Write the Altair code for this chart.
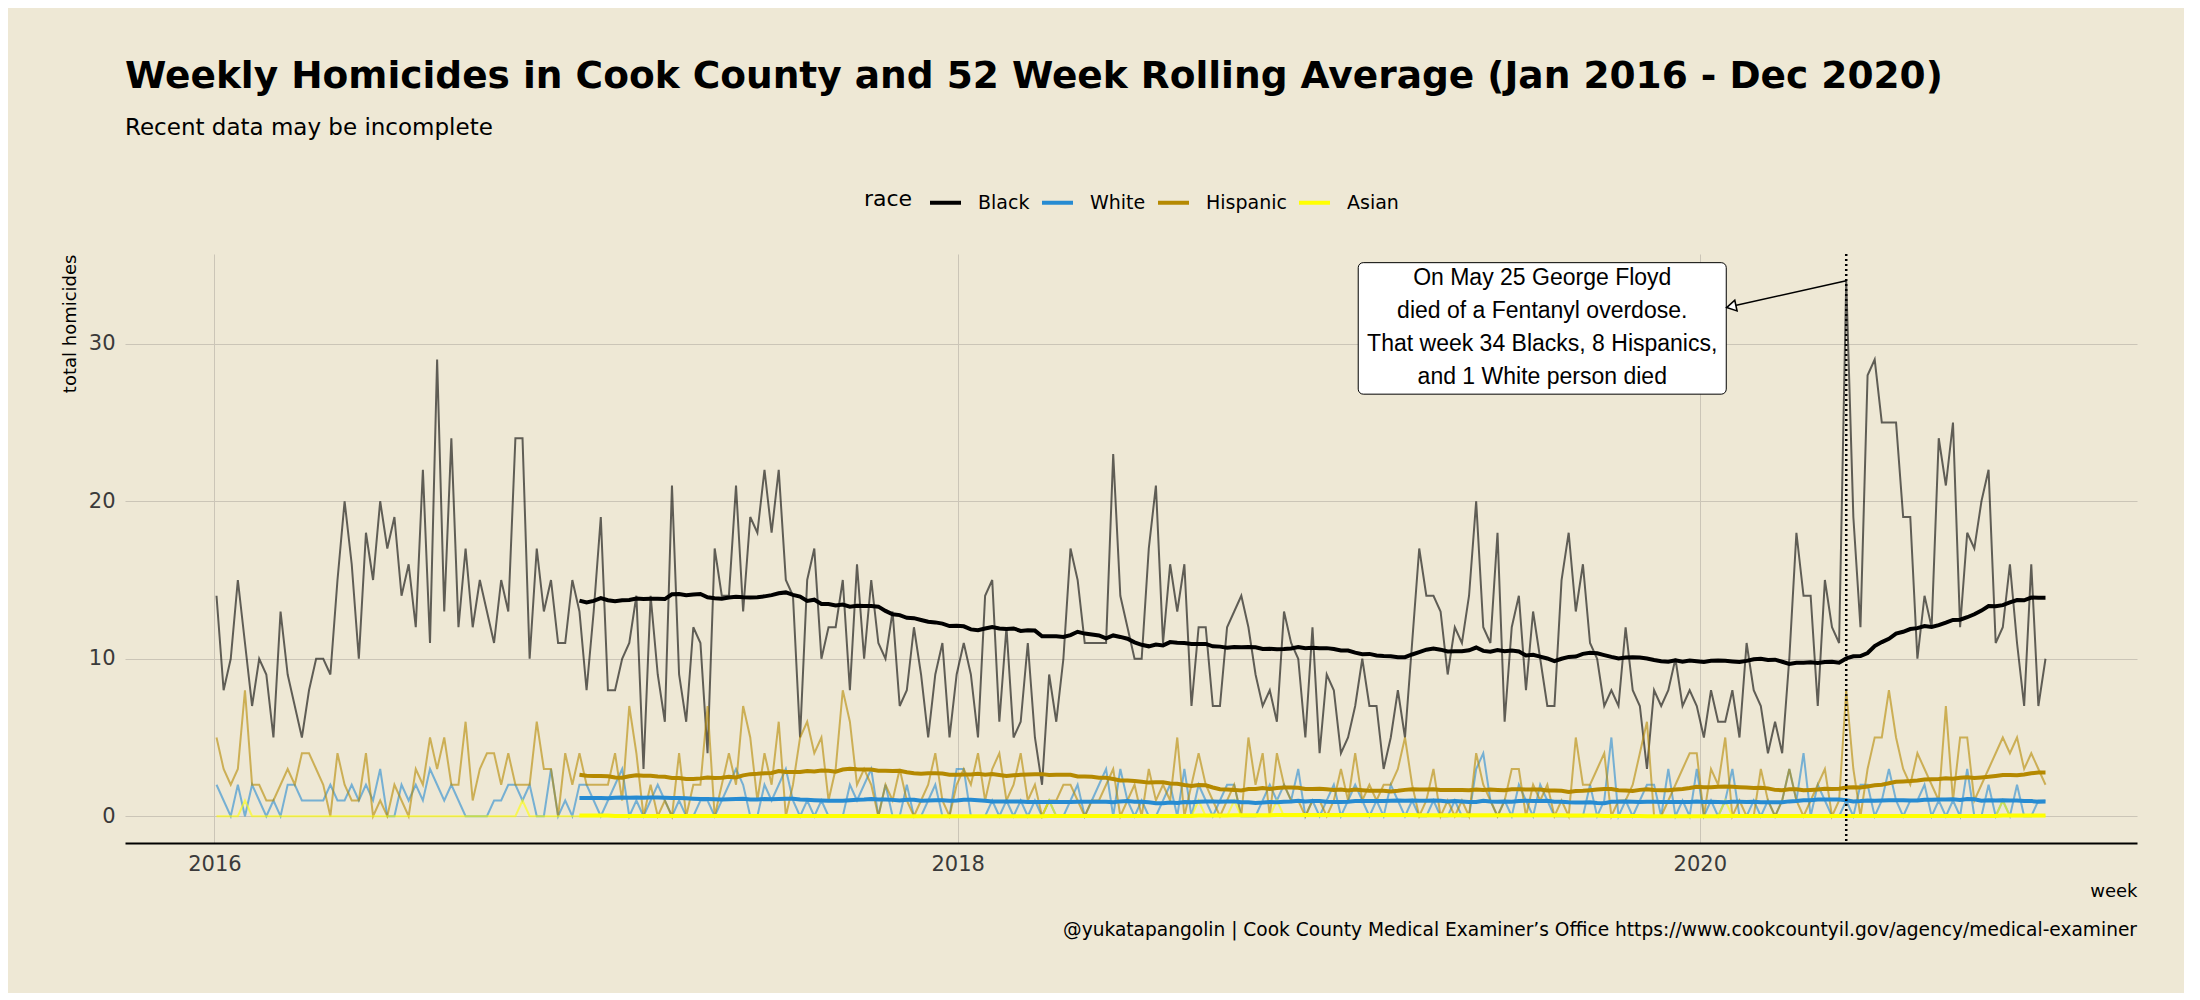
import altair as alt
import pandas as pd

# ---------------- data (weekly counts) ----------------
black = [14, 8, 10, 15, 11, 7, 10, 9, 5, 13,
         9, 7, 5, 8, 10, 10, 9, 15, 20, 16,
         10, 18, 15, 20, 17, 19, 14, 16, 12, 22,
         11, 29, 13, 24, 12, 17, 12, 15, 13, 11,
         15, 13, 24, 24, 10, 17, 13, 15, 11, 11,
         15, 13, 8, 13, 19, 8, 8, 10, 11, 14,
         3, 14, 9, 6, 21, 9, 6, 12, 11, 4,
         17, 14, 14, 21, 13, 19, 18, 22, 18, 22,
         15, 14, 5, 15, 17, 10, 12, 12, 15, 8,
         16, 10, 15, 11, 10, 13, 7, 8, 12, 9,
         5, 9, 11, 5, 9, 11, 9, 5, 14, 15,
         6, 12, 5, 6, 11, 5, 2, 9, 6, 10,
         17, 15, 11, 11, 11, 11, 23, 14, 12, 10,
         10, 17, 21, 11, 16, 13, 16, 7, 12, 12,
         7, 7, 12, 13, 14, 12, 9, 7, 8, 6,
         13, 11, 10, 5, 12, 4, 9, 8, 4, 5,
         7, 10, 7, 7, 3, 5, 8, 5, 11, 17,
         14, 14, 13, 9, 12, 11, 14, 20, 12, 11,
         18, 6, 12, 14, 8, 13, 10, 7, 7, 15,
         18, 13, 16, 11, 10, 7, 8, 7, 12, 8,
         7, 3, 8, 7, 8, 10, 7, 8, 7, 5,
         8, 6, 6, 8, 5, 11, 8, 7, 4, 6,
         4, 10, 18, 14, 14, 7, 15, 12, 11, 34,
         19, 12, 28, 29, 25, 25, 25, 19, 19, 10,
         14, 12, 24, 21, 25, 12, 18, 17, 20, 22,
         11, 12, 16, 11, 7, 16, 7, 10]

white = [2, 1, 0, 2, 0, 2, 1, 0, 1, 0,
         2, 2, 1, 1, 1, 1, 2, 1, 1, 2,
         1, 2, 1, 3, 0, 0, 2, 1, 2, 1,
         3, 2, 1, 2, 1, 0, 0, 0, 0, 1,
         1, 2, 2, 1, 2, 0, 0, 3, 0, 1,
         0, 2, 2, 1, 0, 1, 2, 3, 0, 1,
         0, 1, 2, 1, 0, 1, 0, 0, 1, 1,
         0, 1, 2, 3, 2, 0, 0, 2, 1, 2,
         3, 1, 0, 1, 0, 1, 0, 0, 0, 2,
         1, 2, 3, 0, 2, 0, 0, 2, 0, 0,
         1, 2, 0, 0, 3, 3, 0, 0, 0, 1,
         0, 1, 0, 1, 0, 1, 0, 1, 0, 0,
         1, 2, 0, 1, 2, 3, 0, 3, 1, 0,
         1, 0, 0, 1, 2, 0, 3, 0, 2, 1,
         0, 1, 2, 2, 0, 0, 0, 1, 2, 1,
         2, 1, 3, 0, 1, 0, 1, 2, 0, 1,
         2, 1, 0, 1, 0, 2, 1, 0, 1, 0,
         0, 1, 0, 0, 1, 0, 0, 3, 4, 1,
         0, 1, 0, 2, 1, 0, 2, 1, 0, 0,
         0, 0, 0, 2, 0, 1, 5, 0, 1, 0,
         1, 2, 2, 0, 3, 0, 1, 0, 3, 0,
         1, 0, 1, 3, 0, 0, 1, 0, 1, 0,
         1, 3, 1, 4, 0, 2, 1, 0, 0, 1,
         0, 2, 2, 0, 1, 3, 1, 0, 1, 1,
         2, 0, 1, 0, 1, 0, 3, 0, 0, 2,
         0, 1, 0, 2, 0, 0, 1, 1]

hispanic = [5, 3, 2, 3, 8, 2, 2, 1, 1, 2,
            3, 2, 4, 4, 3, 2, 0, 4, 2, 1,
            1, 4, 0, 1, 0, 2, 1, 0, 3, 2,
            5, 3, 5, 2, 2, 6, 1, 3, 4, 4,
            2, 4, 2, 2, 2, 6, 3, 3, 0, 4,
            2, 4, 2, 2, 2, 2, 4, 1, 7, 4,
            0, 2, 0, 1, 0, 4, 0, 2, 2, 7,
            0, 2, 4, 2, 7, 5, 1, 4, 2, 6,
            0, 2, 5, 6, 4, 5, 1, 3, 8, 6,
            2, 3, 2, 0, 2, 1, 3, 1, 0, 1,
            2, 4, 1, 0, 2, 3, 2, 4, 1, 3,
            4, 1, 2, 4, 1, 2, 0, 1, 1, 2,
            2, 1, 0, 1, 1, 2, 3, 0, 1, 2,
            0, 3, 1, 2, 1, 5, 0, 2, 4, 2,
            1, 0, 1, 2, 0, 5, 2, 4, 0, 4,
            2, 1, 1, 0, 1, 1, 0, 1, 3, 1,
            4, 1, 2, 1, 2, 2, 3, 5, 2, 0,
            1, 3, 0, 1, 0, 1, 0, 4, 2, 1,
            0, 1, 3, 3, 0, 2, 1, 2, 0, 1,
            0, 5, 2, 2, 3, 4, 0, 1, 1, 2,
            4, 6, 0, 0, 1, 2, 3, 4, 4, 0,
            3, 2, 5, 0, 1, 0, 0, 3, 1, 0,
            1, 3, 1, 0, 1, 2, 3, 0, 1, 8,
            3, 0, 3, 5, 5, 8, 5, 3, 2, 4,
            3, 2, 1, 7, 1, 5, 5, 1, 2, 3,
            4, 5, 4, 5, 3, 4, 3, 2]

asian = [0, 0, 0, 0, 1, 0, 0, 0, 0, 0,
         0, 0, 0, 0, 0, 0, 0, 0, 0, 0,
         0, 0, 0, 0, 0, 0, 0, 0, 0, 0,
         0, 0, 0, 0, 0, 0, 0, 0, 0, 0,
         0, 0, 0, 1, 0, 0, 0, 0, 0, 0,
         0, 0, 0, 0, 0, 0, 0, 0, 0, 0,
         0, 0, 0, 0, 0, 0, 0, 0, 0, 0,
         0, 0, 0, 0, 0, 0, 0, 0, 0, 0,
         0, 0, 0, 0, 0, 0, 0, 0, 0, 0,
         0, 0, 0, 0, 0, 0, 0, 0, 0, 0,
         0, 0, 0, 0, 0, 0, 0, 0, 0, 0,
         0, 0, 0, 0, 0, 0, 0, 1, 0, 0,
         0, 0, 0, 0, 0, 0, 0, 0, 0, 0,
         0, 0, 0, 0, 0, 0, 0, 0, 1, 0,
         0, 0, 0, 1, 0, 0, 0, 0, 0, 1,
         0, 0, 0, 0, 0, 0, 0, 0, 0, 0,
         0, 0, 0, 0, 0, 0, 0, 0, 0, 0,
         0, 0, 0, 0, 0, 0, 0, 0, 0, 0,
         0, 0, 0, 0, 0, 0, 0, 0, 0, 0,
         0, 0, 0, 0, 0, 0, 0, 0, 0, 0,
         0, 0, 0, 0, 0, 0, 0, 0, 0, 0,
         0, 0, 1, 0, 0, 0, 0, 0, 0, 0,
         0, 0, 0, 0, 0, 0, 0, 0, 0, 0,
         0, 0, 0, 0, 0, 0, 0, 0, 0, 0,
         0, 0, 0, 0, 0, 0, 0, 0, 0, 0,
         0, 1, 0, 0, 0, 0, 0, 0]

races = ["Black", "White", "Hispanic", "Asian"]
race_colors = ["#000000", "#268BD2", "#B58900", "#FFFF00"]
x_ticks = [2016, 2018, 2020]
y_ticks = [0, 10, 20, 30]

# annotation (data coordinates)
floyd_week = "2020-05-24"
ann_lines = "On May 25 George Floyd\ndied of a Fentanyl overdose.\nThat week 34 Blacks, 8 Hispanics,\nand 1 White person died"
ann_box = {"x1": "2019-01-30", "x2": "2020-01-27", "y1": 26.8, "y2": 35.15}
ann_text_pos = {"x": "2019-07-30", "y": 34.15}
arrow_x = ["2020-05-24", "2020-01-27"]
arrow_y = [34, 32.3]

title = "Weekly Homicides in Cook County and 52 Week Rolling Average (Jan 2016 - Dec 2020)"
subtitle = "Recent data may be incomplete"
caption = "@yukatapangolin | Cook County Medical Examiner\u2019s Office https://www.cookcountyil.gov/agency/medical-examiner"

# ---------------- build table ----------------
weeks = pd.date_range("2016-01-03", periods=len(black), freq="7D").strftime("%Y-%m-%d").tolist()
series = {"Black": black, "White": white, "Hispanic": hispanic, "Asian": asian}
df = pd.DataFrame([{"week": w, "race": r, "n": v}
                   for r in races for w, v in zip(weeks, series[r])])

FONT = "DejaVu Sans"
BG = "#EEE8D5"
GRID = "#CBC5B7"

x_scale = alt.Scale(type="utc", domain=[alt.DateTime(year=2015, month=10, date=5, utc=True),
                                        alt.DateTime(year=2021, month=3, date=6, utc=True)])
y_scale = alt.Scale(domain=[-1.7, 35.7], nice=False, zero=False)

x_axis = alt.Axis(values=[alt.DateTime(year=y, month=1, date=1, utc=True) for y in x_ticks],
                  format="%Y", title="week", titleAnchor="end", titleFont=FONT,
                  titleFontSize=18, titleFontWeight="normal", titleColor="black",
                  titlePadding=8, labelFont=FONT, labelFontSize=21, labelColor="#3a3a3a",
                  labelPadding=10, labelFlush=False, ticks=False, domain=True,
                  domainColor="black", domainWidth=1.8, grid=True, gridColor=GRID, gridWidth=1)
y_axis = alt.Axis(values=y_ticks, title="total homicides", titleFont=FONT, titleFontSize=18,
                  titleFontWeight="normal", titleColor="black", titleAngle=270,
                  titleAlign="right", titleBaseline="middle", titleX=-55, titleY=0,
                  labelFont=FONT, labelFontSize=21, labelColor="#3a3a3a", labelPadding=10,
                  ticks=False, domain=False, grid=True, gridColor=GRID, gridWidth=1)

color_scale = alt.Scale(domain=races, range=race_colors)

weekly = alt.Chart(df).mark_line(strokeWidth=2.0, opacity=0.6).encode(
    x=alt.X("week:T", scale=x_scale, axis=x_axis),
    y=alt.Y("n:Q", scale=y_scale, axis=y_axis),
    color=alt.Color("race:N", scale=color_scale, legend=None),
)

rolling = alt.Chart(df).transform_window(
    roll="mean(n)", rn="row_number()", frame=[-51, 0],
    groupby=["race"], sort=[alt.SortField("week")]
).transform_filter("datum.rn >= 52").mark_line(strokeWidth=4).encode(
    x=alt.X("week:T", scale=x_scale, axis=x_axis),
    y=alt.Y("roll:Q", scale=y_scale, axis=y_axis),
    color=alt.Color("race:N", scale=color_scale, legend=alt.Legend(
        title="race", orient="none", legendX=739, legendY=-69, direction="horizontal",
        columns=4, titleOrient="left", titleFont=FONT, titleFontSize=22,
        titleFontWeight="normal", titleColor="black", titlePadding=15,
        labelFont=FONT, labelFontSize=19, labelColor="black", labelOffset=15,
        symbolType="stroke", symbolStrokeWidth=4, symbolSize=961, columnPadding=4,
        padding=0)),
)

vline = alt.Chart(pd.DataFrame({"week": [floyd_week]})).mark_rule(
    color="black", strokeWidth=2.5, strokeDash=[2, 3]
).encode(x=alt.X("week:T", scale=x_scale, axis=x_axis))

box = alt.Chart(pd.DataFrame([ann_box])).mark_rect(
    fill="white", stroke="black", strokeWidth=1, cornerRadius=5
).encode(
    x=alt.X("x1:T", scale=x_scale, axis=x_axis), x2="x2:T",
    y=alt.Y("y1:Q", scale=y_scale, axis=y_axis), y2="y2:Q",
)

ann_text = alt.Chart(pd.DataFrame([{**ann_text_pos, "label": ann_lines}])).mark_text(
    font="Liberation Sans", fontSize=23, lineHeight=33, lineBreak="\n",
    align="center", baseline="middle", color="black"
).encode(
    x=alt.X("x:T", scale=x_scale, axis=x_axis),
    y=alt.Y("y:Q", scale=y_scale, axis=y_axis),
    text="label:N",
)

arrow_df = pd.DataFrame({"x": arrow_x, "y": arrow_y, "o": [0, 1]})
arrow = alt.Chart(arrow_df).mark_line(color="black", strokeWidth=1.6).encode(
    x=alt.X("x:T", scale=x_scale, axis=x_axis),
    y=alt.Y("y:Q", scale=y_scale, axis=y_axis),
    order="o:Q",
)
arrow_head = alt.Chart(arrow_df.iloc[[1]]).mark_point(
    shape="triangle-left", angle=348, size=120, filled=True, fill="white",
    stroke="black", strokeWidth=1.6, opacity=1, xOffset=5, yOffset=-1
).encode(
    x=alt.X("x:T", scale=x_scale, axis=x_axis),
    y=alt.Y("y:Q", scale=y_scale, axis=y_axis),
)

cap = alt.Chart(pd.DataFrame({"t": [caption]})).mark_text(
    align="right", baseline="middle", font=FONT, fontSize=18.6, color="black"
).encode(x=alt.value(2012), y=alt.value(676), text="t:N")

chart = alt.layer(weekly, rolling, vline, arrow, box, ann_text, arrow_head, cap).resolve_scale(
    color="independent"
).properties(
    width=2012, height=589,
    background=BG,
    padding={"left": 117, "top": 246, "right": 47, "bottom": 150},
    autosize=alt.AutoSizeParams(type="none"),
    title=alt.TitleParams(text=title, subtitle=subtitle, anchor="start", frame="group",
                          font=FONT, fontSize=37.5, fontWeight="bold", color="black",
                          subtitleFont=FONT, subtitleFontSize=23, subtitleColor="black",
                          subtitlePadding=22, offset=45),
).configure_view(strokeWidth=0)

chart.save("out.html", embed_options={"renderer": "svg", "actions": False})
